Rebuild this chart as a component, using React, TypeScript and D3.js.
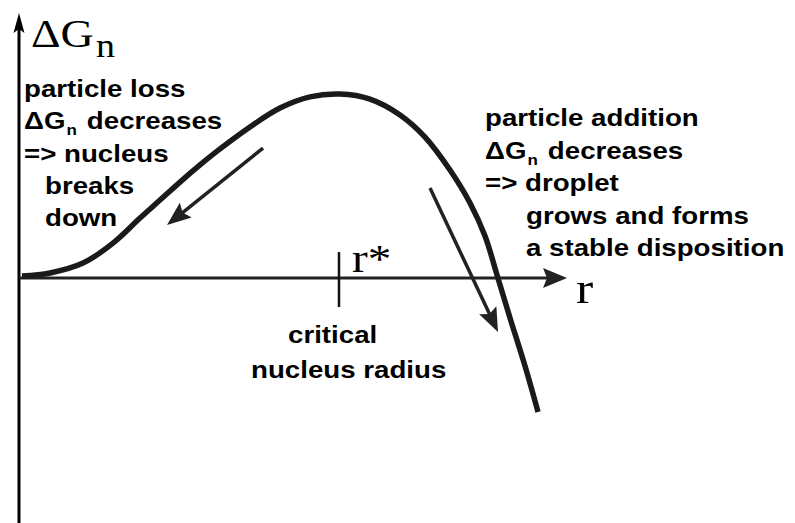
import React from "react";
import * as d3 from "d3";

// Curve: radius r (arbitrary units) and free energy ΔG_n (relative units)
const curveR = [0.055, 0.566, 1.168, 1.715, 2.208, 2.573, 2.938, 3.303, 3.668, 4.215, 4.763, 5.31, 5.858, 6.405, 6.953, 7.409, 7.865, 8.23, 8.504, 8.723, 8.96, 9.234, 9.471];
const curveG = [0.011, 0.028, 0.083, 0.194, 0.333, 0.433, 0.533, 0.628, 0.717, 0.839, 0.944, 1.006, 1.022, 0.994, 0.906, 0.783, 0.6, 0.417, 0.233, 0.017, -0.222, -0.489, -0.744];

// critical radius r*
const rStar = 5.839;
const tickHalf = [0.144, -0.161];

// direction arrows
const arrowStartR = [4.453, 7.5];
const arrowStartG = [0.722, 0.5];
const arrowEndR = [2.701, 8.741];
const arrowEndG = [0.294, -0.3];

// axis extents
const xExtent = [0, 10];
const yExtent = [-1.4, 1.472];

const leftLines = ["particle loss", "ΔG|n| decreases", "=> nucleus", "breaks", "down"];
const rightLines = ["particle addition", "ΔG|n| decreases", "=> droplet", "grows and forms", "a stable disposition"];
const bottomLines = ["critical", "nucleus radius"];

const W = 795;
const H = 523;
const SX = 1.13;
const sans = "'Liberation Sans', Arial, Helvetica, sans-serif";
const serif = "'Liberation Serif', 'Times New Roman', serif";

function StretchText({ x, y, text, size, family, weight, sub, sx }: any) {
  const parts = text.split("|");
  return (
    <g transform={`translate(${x},${y}) scale(${sx ?? SX},1)`}>
      <text x={0} y={0} fontFamily={family} fontSize={size} fontWeight={weight} fill="#000">
        {parts.length === 1 ? (
          text
        ) : (
          <>
            <tspan>{parts[0]}</tspan>
            <tspan fontSize={sub.size} dy={sub.dy} dx={sub.dx}>{parts[1]}</tspan>
            <tspan dy={-sub.dy} dx={sub.dx2}>{parts[2]}</tspan>
          </>
        )}
      </text>
    </g>
  );
}

function arrowHead(x0: number, y0: number, x1: number, y1: number, len: number, half: number) {
  const dx = x1 - x0;
  const dy = y1 - y0;
  const L = Math.hypot(dx, dy);
  const ux = dx / L;
  const uy = dy / L;
  const bx = x1 - ux * len;
  const by = y1 - uy * len;
  const px = -uy;
  const py = ux;
  return `M${x1},${y1}L${bx + px * half},${by + py * half}L${bx + ux * 4},${by + uy * 4}L${bx - px * half},${by - py * half}Z`;
}

export default function App() {
  const x = d3.scaleLinear().domain([0, 10]).range([19, 567]);
  const y = d3.scaleLinear().domain([0, 1]).range([278, 98]);

  const pts: [number, number][] = curveR.map((r, i) => [r, curveG[i]]);
  const line = d3
    .line<[number, number]>()
    .x((d) => x(d[0]))
    .y((d) => y(d[1]))
    .curve(d3.curveCatmullRom.alpha(0.5));

  const x0 = x(xExtent[0]);
  const x1 = x(xExtent[1]);
  const yTop = y(yExtent[1]);
  const yBot = y(yExtent[0]);
  const y0 = y(0);

  const subL = { size: 15, dy: 6, dx: 1, dx2: 2 };

  return (
    <svg width={W} height={H} style={{ position: "absolute", left: 0, top: 0, background: "#fff" }}>
      <rect width={W} height={H} fill="#fff" />
      {/* axes */}
      <line x1={x0} y1={yBot} x2={x0} y2={yTop + 15} stroke="#000" strokeWidth={3} />
      <path d={arrowHead(x0, yBot, x0, yTop, 20, 5.5)} fill="#000" />
      <line x1={x0} y1={y0} x2={x1 - 18} y2={y0} stroke="#222" strokeWidth={3} />
      <path d={arrowHead(x0, y0, x1, y0, 24, 10)} fill="#222" />
      {/* r* tick */}
      <line x1={x(rStar)} x2={x(rStar)} y1={y(tickHalf[0])} y2={y(tickHalf[1])} stroke="#111" strokeWidth={2.5} />

      {/* curve */}
      <path d={line(pts) || ""} fill="none" stroke="#1a1a1a" strokeWidth={5.5} strokeLinecap="butt" />

      {/* arrows */}
      {arrowStartR.map((r, i) => {
        const ax0 = x(r);
        const ay0 = y(arrowStartG[i]);
        const ax1 = x(arrowEndR[i]);
        const ay1 = y(arrowEndG[i]);
        const dx = ax1 - ax0;
        const dy = ay1 - ay0;
        const L = Math.hypot(dx, dy);
        return (
          <g key={i}>
            <line x1={ax0} y1={ay0} x2={ax1 - (dx / L) * 14} y2={ay1 - (dy / L) * 14} stroke="#222" strokeWidth={3.5} />
            <path d={arrowHead(ax0, ay0, ax1, ay1, 24, 9.5)} fill="#222" />
          </g>
        );
      })}

      {/* axis labels */}
      <StretchText x={31} y={47} text="ΔG" size={40} family={serif} weight="normal" sx={1.15} />
      <StretchText x={96} y={57} text="n" size={33} family={serif} weight="normal" sx={1.15} />
      <StretchText x={352} y={272} text="r*" size={41} family={serif} weight="normal" sx={1.15} />
      <StretchText x={576} y={303} text="r" size={45} family={serif} weight="normal" sx={1.15} />

      {/* left annotation */}
      {leftLines.map((t, i) => (
        <StretchText
          key={"l" + i}
          x={i >= 3 ? 45 : 24}
          y={97 + i * 32.3}
          text={t}
          size={24.5}
          family={sans}
          weight="bold"
          sub={subL}
        />
      ))}
      {/* right annotation */}
      {rightLines.map((t, i) => (
        <StretchText
          key={"r" + i}
          x={i >= 3 ? 526 : 485}
          y={126 + i * 32.6}
          text={t}
          size={24.5}
          family={sans}
          weight="bold"
          sub={subL}
        />
      ))}
      {/* bottom annotation */}
      {bottomLines.map((t, i) => (
        <StretchText
          key={"b" + i}
          x={i === 0 ? 288 : 251}
          y={343 + i * 35}
          text={t}
          size={24.5}
          family={sans}
          weight="bold"
        />
      ))}
    </svg>
  );
}
